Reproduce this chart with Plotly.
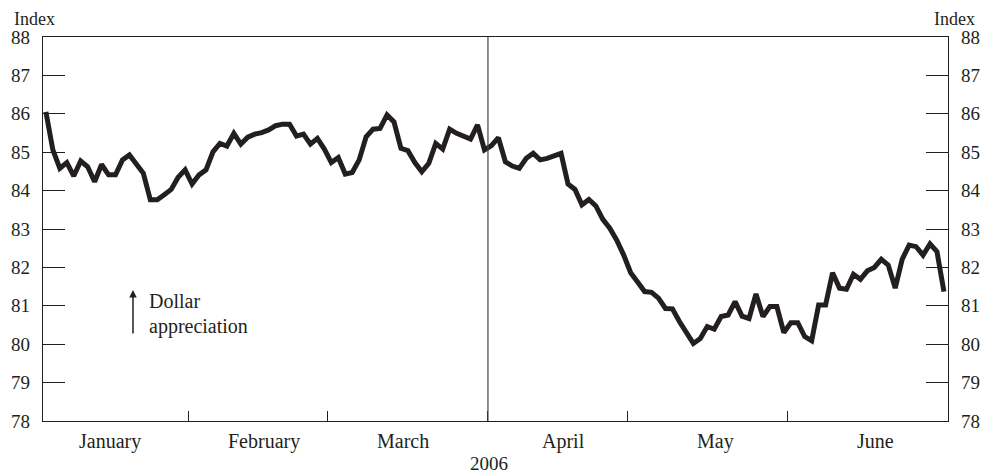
import pandas as pd
import plotly.graph_objects as go

# ---- data, one value per business day ----
start_date = "2006-01-03"
end_date = "2006-07-03"

jan_values = [86.05, 85.06, 84.58, 84.73, 84.38, 84.77, 84.62, 84.23, 84.68, 84.41,
              84.41, 84.80, 84.93, 84.67, 84.45, 83.76, 83.76, 83.89, 84.03, 84.35, 84.54]
feb_values = [84.17, 84.41, 84.54, 85.01, 85.23, 85.16, 85.49, 85.21, 85.39, 85.47,
              85.51, 85.58, 85.69, 85.73, 85.73, 85.42, 85.47, 85.21, 85.36, 85.08]
mar_values = [84.73, 84.86, 84.43, 84.47, 84.80, 85.40, 85.60, 85.62, 85.97, 85.79,
              85.10, 85.04, 84.73, 84.49, 84.71, 85.23, 85.08, 85.60, 85.49, 85.40,
              85.34, 85.71, 85.06]
apr_values = [85.17, 85.38, 84.75, 84.64, 84.58, 84.84, 84.97, 84.80, 84.84, 84.90,
              84.97, 84.17, 84.03, 83.63, 83.77, 83.60, 83.25, 83.02, 82.71, 82.32]
may_values = [81.86, 81.62, 81.37, 81.35, 81.20, 80.93, 80.92, 80.59, 80.30, 80.02,
              80.15, 80.46, 80.39, 80.72, 80.76, 81.11, 80.73, 80.67, 81.31, 80.72,
              80.98, 80.98, 80.30]
jun_values = [80.56, 80.56, 80.20, 80.09, 81.02, 81.02, 81.86, 81.46, 81.43, 81.82,
              81.69, 81.91, 82.00, 82.21, 82.06, 81.46, 82.21, 82.58, 82.54, 82.32,
              82.61, 82.41]
jul_values = [81.37]

month_labels = ["January", "February", "March", "April", "May", "June"]
year_label = "2006"
y_ticks = list(range(78, 89))

# ---- build series ----
values = jan_values + feb_values + mar_values + apr_values + may_values + jun_values + jul_values
dates = pd.bdate_range(start_date, end_date) + pd.Timedelta(hours=12)
assert len(dates) == len(values)

# first business day of each month Feb..Jun (month boundary ticks)
month_starts = []
for m in range(2, 7):
    first = pd.bdate_range(f"2006-{m:02d}-01", f"2006-{m:02d}-07")[0]
    month_starts.append(first.strftime("%Y-%m-%d"))

INK = "#231f20"
FONT = "Liberation Serif"

fig = go.Figure()
fig.add_trace(go.Scatter(x=dates, y=values, mode="lines",
                         line=dict(color=INK, width=5), showlegend=False,
                         hoverinfo="x+y"))
fig.add_trace(go.Scatter(x=dates, y=values, mode="lines", yaxis="y2",
                         line=dict(color="rgba(0,0,0,0)", width=0),
                         showlegend=False, hoverinfo="skip"))

axis_common = dict(
    range=[78, 88], tickvals=y_ticks, ticks="inside", ticklen=22, tickwidth=1.2,
    tickcolor=INK, showline=True, linecolor=INK, linewidth=1.3, showgrid=False,
    zeroline=False, tickfont=dict(family=FONT, size=19, color=INK),
    ticklabelstandoff=8, automargin=False,
)

fig.update_layout(
    width=984, height=474, autosize=False,
    margin=dict(l=43, r=36, t=37, b=53, pad=0, autoexpand=False),
    paper_bgcolor="white", plot_bgcolor="white",
    font=dict(family=FONT, size=19, color=INK),
    xaxis=dict(
        type="date",
        range=["2006-01-03 02:00", "2006-07-04 02:00"],
        rangebreaks=[dict(bounds=["sat", "mon"])],
        tickvals=month_starts, ticks="inside", ticklen=10, tickwidth=1.2,
        tickcolor=INK, showticklabels=False, showline=True, linecolor=INK,
        linewidth=1.3, mirror=True, showgrid=False, zeroline=False,
        automargin=False,
    ),
    yaxis=dict(side="left", **axis_common),
    yaxis2=dict(side="right", overlaying="y", anchor="x", **axis_common),
)

# vertical separator at the start of April
fig.add_shape(type="line", xref="x", yref="paper", x0=month_starts[2], x1=month_starts[2],
              y0=0, y1=1, line=dict(color="#444444", width=1.2))

# month labels (centres, in plot-area pixels)
label_px = [67, 221, 360, 520, 672, 832]
plot_w = 984 - 43 - 36
for lab, px in zip(month_labels, label_px):
    fig.add_annotation(text=lab, xref="paper", yref="paper", x=px / plot_w, y=0,
                       yshift=-20, showarrow=False, xanchor="center", yanchor="middle",
                       font=dict(family=FONT, size=20, color=INK))

fig.add_annotation(text=year_label, xref="paper", yref="paper", x=446 / plot_w, y=0,
                   yshift=-42, showarrow=False, xanchor="center", yanchor="middle",
                   font=dict(family=FONT, size=19, color=INK))

fig.add_annotation(text="Index", xref="paper", yref="paper", x=0, y=1, xshift=-31,
                   yshift=18, showarrow=False, xanchor="left", yanchor="middle",
                   font=dict(family=FONT, size=18, color=INK))
fig.add_annotation(text="Index", xref="paper", yref="paper", x=1, y=1, xshift=29,
                   yshift=18, showarrow=False, xanchor="right", yanchor="middle",
                   font=dict(family=FONT, size=18, color=INK))

# "Dollar appreciation" note with arrow
fig.add_annotation(text="", xref="paper", yref="y", x=90 / plot_w, y=81.41,
                   ax=0, ay=45, showarrow=True, arrowhead=2, arrowsize=1,
                   arrowwidth=1.5, arrowcolor=INK)
fig.add_annotation(text="Dollar", xref="paper", yref="y", x=104 / plot_w, y=81.125,
                   showarrow=False, xanchor="left", yanchor="middle",
                   font=dict(family=FONT, size=20, color=INK))
fig.add_annotation(text="appreciation", xref="paper", yref="y", x=104 / plot_w, y=80.45,
                   showarrow=False, xanchor="left", yanchor="middle",
                   font=dict(family=FONT, size=20, color=INK))

fig.write_html("out.html", config={"displayModeBar": False},
               post_script="document.body.style.margin='0';document.body.style.overflow='hidden';")
